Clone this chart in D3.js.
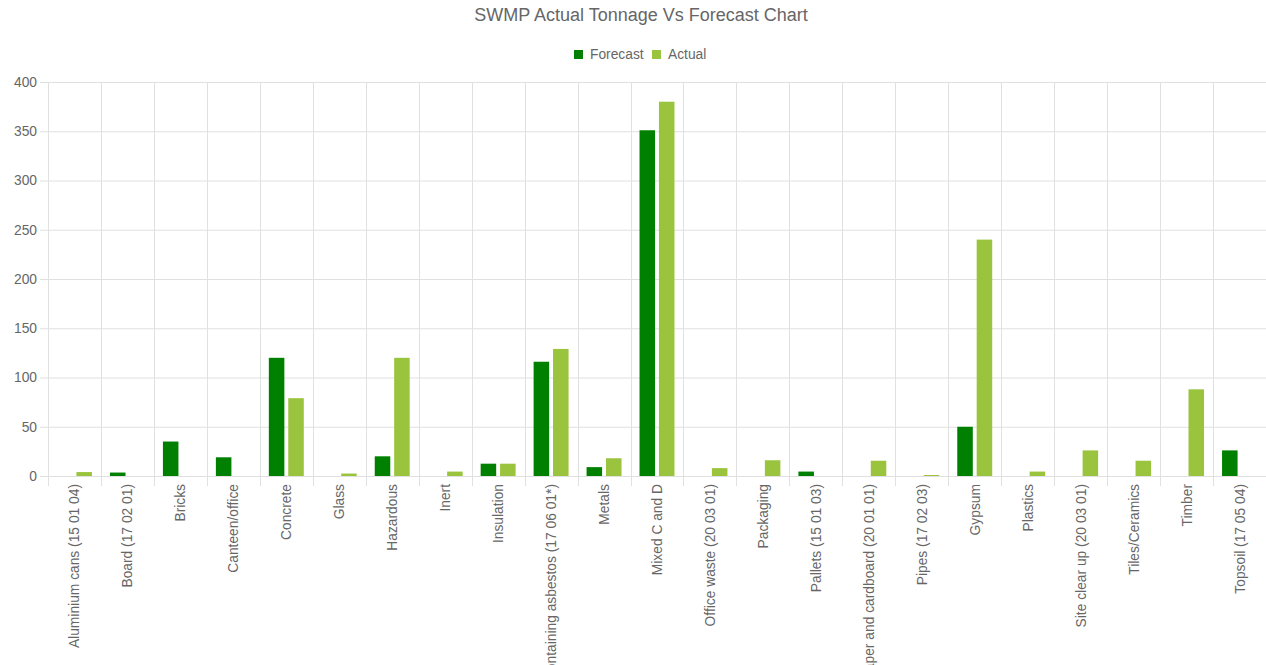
<!DOCTYPE html>
<html>
<head>
<meta charset="utf-8">
<script src="https://cdn.jsdelivr.net/npm/d3@7"></script>
<style>
  body { margin: 0; background: #fff; font-family: "Liberation Sans", Arial, sans-serif; }
  #chart svg { display: block; }
</style>
</head>
<body>
<div id="chart"></div>
<script>
// categories and values
var categories = [
  "Aluminium cans (15 01 04)", "Board (17 02 01)", "Bricks", "Canteen/office",
  "Concrete", "Glass", "Hazardous", "Inert", "Insulation",
  "Materials containing asbestos (17 06 01*)", "Metals", "Mixed C and D",
  "Office waste (20 03 01)", "Packaging", "Pallets (15 01 03)",
  "Paper and cardboard (20 01 01)", "Pipes (17 02 03)", "Gypsum", "Plastics",
  "Site clear up (20 03 01)", "Tiles/Ceramics", "Timber", "Topsoil (17 05 04)"
];
var forecast = [0, 3.5, 35, 19, 120, 0, 20, 0, 12.5, 116, 9, 351, 0, 0, 4.5, 0, 0, 50, 0, 0, 0, 0, 26];
var actual   = [4, 0, 0, 0, 79, 2.5, 120, 4.5, 12.5, 129, 18, 380, 8, 16, 0, 15.5, 1, 240, 4.5, 26, 15.5, 88, 0];
var seriesNames = ["Forecast", "Actual"];
var seriesColors = ["#008000", "#9bc43e"];
var yTicks = [0, 50, 100, 150, 200, 250, 300, 350, 400];

var svgWidth = 1266;
var svgHeight = 665;
var margin = { top: 82, right: 0, bottom: 189, left: 48 };
var width = svgWidth - margin.left - margin.right;
var height = svgHeight - margin.top - margin.bottom;
var labelSize = "13.8px";

var svg = d3.select("#chart")
  .append("svg")
  .attr("width", svgWidth)
  .attr("height", svgHeight);

var data = categories.map(function (c, i) {
  return { cat: c, values: [forecast[i], actual[i]] };
});

var x0 = d3.scaleBand().domain(categories).range([0, width]);
var bw = x0.bandwidth();
var x1 = d3.scaleBand().domain(seriesNames).range([bw * 0.17, bw * 0.83]).paddingInner(0.2);
var y = d3.scaleLinear().domain([0, 400]).range([height, 0]);

var chartGroup = svg.append("g")
  .attr("transform", `translate(${margin.left}, ${margin.top})`);

// horizontal gridlines + y labels
var yAxis = chartGroup.append("g")
  .call(d3.axisLeft(y).tickValues(yTicks).tickSize(-width - 8).tickPadding(4));
yAxis.select(".domain").remove();
yAxis.selectAll(".tick line")
  .attr("x1", -8)
  .attr("x2", width)
  .attr("stroke", "#e0e0e0");
yAxis.selectAll(".tick text")
  .attr("x", -11)
  .attr("fill", "#666")
  .style("font-size", labelSize)
  .style("font-family", "'Liberation Sans', Arial, sans-serif");

// vertical gridlines at band edges
var edges = categories.map(function (c) { return x0(c); }).concat([width]);
chartGroup.append("g").selectAll("line")
  .data(edges)
  .enter()
  .append("line")
  .attr("x1", d => Math.round(d) + 0.5)
  .attr("x2", d => Math.round(d) + 0.5)
  .attr("y1", 0)
  .attr("y2", height + 10)
  .attr("stroke", "#e0e0e0");

// bars
var groups = chartGroup.selectAll(".cat")
  .data(data)
  .enter()
  .append("g")
  .attr("transform", d => `translate(${x0(d.cat)},0)`);

groups.selectAll("rect")
  .data(d => d.values.map(function (v, i) { return { name: seriesNames[i], value: v, i: i }; }))
  .enter()
  .append("rect")
  .attr("x", d => x1(d.name))
  .attr("width", x1.bandwidth())
  .attr("y", d => y(d.value))
  .attr("height", d => height - y(d.value))
  .attr("fill", d => seriesColors[d.i]);

// x labels (long ones run off the bottom, as in the original)
chartGroup.append("g").selectAll("text")
  .data(categories)
  .enter()
  .append("text")
  .attr("transform", d => `translate(${x0(d) + bw / 2 + 5},${height + 8}) rotate(-90)`)
  .attr("text-anchor", "end")
  .attr("fill", "#666")
  .style("font-size", labelSize)
  .text(d => d);

// title
svg.append("text")
  .attr("x", 641)
  .attr("y", 21)
  .attr("text-anchor", "middle")
  .attr("fill", "#666")
  .style("font-size", "18px")
  .text("SWMP Actual Tonnage Vs Forecast Chart");

// legend
var legend = svg.append("g").attr("transform", "translate(574,50)");
var legendX = [0, 78];
seriesNames.forEach(function (name, i) {
  legend.append("rect")
    .attr("x", legendX[i])
    .attr("y", 0)
    .attr("width", 9)
    .attr("height", 9)
    .attr("fill", seriesColors[i]);
  legend.append("text")
    .attr("x", legendX[i] + 16)
    .attr("y", 9)
    .attr("fill", "#666")
    .style("font-size", labelSize)
    .text(name);
});
</script>
</body>
</html>
